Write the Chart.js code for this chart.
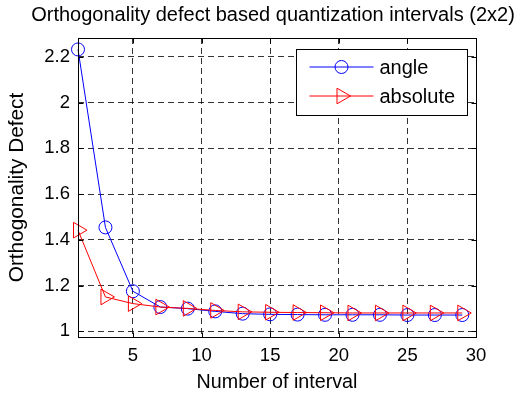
<!DOCTYPE html>
<html>
<head>
<meta charset="utf-8">
<script src="https://cdn.jsdelivr.net/npm/chart.js@4.4.0/dist/chart.umd.min.js"></script>
<style>
html, body { margin: 0; padding: 0; background: #fff; }
</style>
</head>
<body>
<canvas id="odChart" width="525" height="395"></canvas>
<script>
// number of intervals (x) and orthogonality defect
var intervals = [1, 3, 5, 7, 9, 11, 13, 15, 17, 19, 21, 23, 25, 27, 29];
var angleDefect = [2.232, 1.454, 1.175, 1.106, 1.099, 1.087, 1.077, 1.074, 1.073, 1.072, 1.072, 1.072, 1.071, 1.071, 1.071];
var absoluteDefect = [1.442, 1.150, 1.121, 1.106, 1.100, 1.091, 1.085, 1.083, 1.082, 1.081, 1.080, 1.080, 1.080, 1.080, 1.080];
var seriesNames = ['angle', 'absolute'];
var xTicks = [5, 10, 15, 20, 25, 30];
var yTicks = [1, 1.2, 1.4, 1.6, 1.8, 2, 2.2];
var chartTitle = 'Orthogonality defect based quantization intervals (2x2)';

var FONT = "'Liberation Sans', Arial, Helvetica, sans-serif";
Chart.defaults.font.family = FONT;
Chart.defaults.color = '#000';

function toPoints(ys) {
    return intervals.map(function (x, i) { return { x: x, y: ys[i] }; });
}

function drawMarker(ctx, style, x, y, color) {
    ctx.save();
    ctx.strokeStyle = color;
    ctx.lineWidth = 1;
    ctx.beginPath();
    if (style === 'circle') {
        ctx.arc(x, y, 6.5, 0, Math.PI * 2);
    } else {
        var r = 9;
        ctx.moveTo(x + r, y);
        ctx.lineTo(x - r / 2, y - r * Math.sqrt(3) / 2);
        ctx.lineTo(x - r / 2, y + r * Math.sqrt(3) / 2);
        ctx.closePath();
    }
    ctx.stroke();
    ctx.restore();
}

// title, box, inward ticks and legend like the matlab figure
var framePlugin = {
    id: 'frame',
    afterDatasetsDraw: function (chart) {
        var ctx = chart.ctx, a = chart.chartArea;
        var xs = chart.scales.x, ys = chart.scales.y;
        var L = Math.round(a.left) + 0.5, R = Math.round(a.right) + 0.5;
        var T = Math.round(a.top) + 0.5, B = Math.round(a.bottom) + 0.5;
        ctx.save();
        ctx.fillStyle = '#000';
        ctx.font = '20px ' + FONT;
        ctx.textAlign = 'center';
        ctx.textBaseline = 'middle';
        ctx.fillText(chartTitle, 273, 15);

        ctx.strokeStyle = '#000';
        ctx.lineWidth = 1;
        ctx.strokeRect(L, T, R - L, B - T);
        ctx.beginPath();
        xTicks.forEach(function (v) {
            var px = Math.round(xs.getPixelForValue(v)) + 0.5;
            ctx.moveTo(px, B); ctx.lineTo(px, B - 5);
            ctx.moveTo(px, T); ctx.lineTo(px, T + 5);
        });
        yTicks.forEach(function (v) {
            var py = Math.round(ys.getPixelForValue(v)) + 0.5;
            ctx.moveTo(L, py); ctx.lineTo(L + 5, py);
            ctx.moveTo(R, py); ctx.lineTo(R - 5, py);
        });
        ctx.stroke();

        // legend
        var lw = 171, lh = 66;
        var lx = Math.round(a.right - 9 - lw) + 0.5, ly = Math.round(a.top + 11) + 0.5;
        ctx.fillStyle = '#fff';
        ctx.fillRect(lx, ly, lw, lh);
        ctx.strokeRect(lx, ly, lw, lh);
        ctx.font = '20px ' + FONT;
        ctx.textBaseline = 'middle';
        ctx.textAlign = 'left';
        chart.data.datasets.forEach(function (ds, i) {
            var yy = ly + 17.5 + i * 29;
            ctx.strokeStyle = ds.borderColor;
            ctx.beginPath();
            ctx.moveTo(lx + 13, yy); ctx.lineTo(lx + 77, yy);
            ctx.stroke();
            drawMarker(ctx, ds.pointStyle, lx + 45, yy, ds.borderColor);
            ctx.fillStyle = '#000';
            ctx.fillText(ds.label, lx + 83, yy + 1);
        });
        ctx.restore();
    }
};

new Chart(document.getElementById('odChart'), {
    type: 'line',
    data: {
        datasets: [{
            label: seriesNames[0],
            data: toPoints(angleDefect),
            borderColor: '#0000ff',
            backgroundColor: 'rgba(0,0,0,0)',
            borderWidth: 1,
            pointStyle: 'circle',
            pointRadius: 6.5,
            pointBorderWidth: 1,
            tension: 0,
            clip: false,
            order: 1
        }, {
            label: seriesNames[1],
            data: toPoints(absoluteDefect),
            borderColor: '#ff0000',
            backgroundColor: 'rgba(0,0,0,0)',
            borderWidth: 1,
            pointStyle: 'triangle',
            pointRotation: 90,
            pointRadius: 9,
            pointBorderWidth: 1,
            tension: 0,
            clip: false,
            order: 0
        }]
    },
    options: {
        responsive: false,
        animation: false,
        layout: { padding: { left: 0, right: 49, top: 38, bottom: 0 } },
        plugins: {
            legend: { display: false },
            tooltip: { enabled: false },
            title: { display: false }
        },
        scales: {
            x: {
                type: 'linear',
                min: 1,
                max: 30,
                afterFit: function (s) { s.height = 58; },
                afterBuildTicks: function (s) {
                    s.ticks = xTicks.map(function (v) { return { value: v }; });
                },
                ticks: { autoSkip: false, maxRotation: 0, padding: 8, font: { size: 18.5 }, color: '#000' },
                grid: { color: 'rgba(0,0,0,0.8)', lineWidth: 1, drawTicks: false },
                border: { display: false, dash: [6, 4] },
                title: { display: true, text: 'Number of interval', font: { size: 19.7 }, color: '#000', padding: 1 }
            },
            y: {
                min: 0.975,
                max: 2.282,
                afterFit: function (s) { s.width = 78; },
                afterBuildTicks: function (s) {
                    s.ticks = yTicks.map(function (v) { return { value: v }; });
                },
                ticks: {
                    autoSkip: false, padding: 8, font: { size: 18.5 }, color: '#000',
                    callback: function (v) { return String(v); }
                },
                grid: { color: 'rgba(0,0,0,0.8)', lineWidth: 1, drawTicks: false },
                border: { display: false, dash: [6, 4] },
                title: { display: true, text: 'Orthogonality Defect', font: { size: 20.8 }, color: '#000', padding: 5 }
            }
        }
    },
    plugins: [framePlugin]
});
</script>
</body>
</html>
